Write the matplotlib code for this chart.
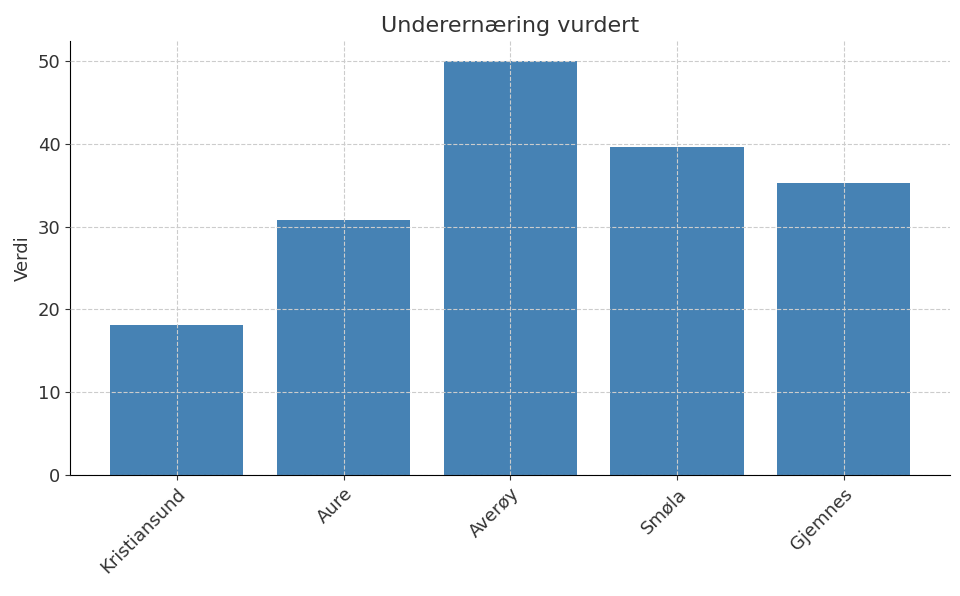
import matplotlib
matplotlib.use("Agg")
import matplotlib.pyplot as plt

# Data
kommuner = ["Kristiansund", "Aure", "Averøy", "Smøla", "Gjemnes"]
verdier = [18.1, 30.8, 50.0, 39.6, 35.3]

plt.rcParams['font.family'] = ['DejaVu Sans']
fig, ax = plt.subplots(figsize=(9.6, 5.96), dpi=100)
fig.subplots_adjust(left=0.073, right=0.99, top=0.932, bottom=0.203)

ax.bar(kommuner, verdier, color="steelblue", width=0.8, zorder=2)
ax.set_title("Underernæring vurdert", fontsize=16, color="#333333")
ax.set_ylabel("Verdi", fontsize=13, color="#333333")
ax.set_ylim(0, 52.5)
ax.set_yticks(range(0, 51, 10))
ax.tick_params(axis='both', labelsize=13, colors="#333333")
plt.setp(ax.get_xticklabels(), rotation=45, ha="right", rotation_mode="anchor")
ax.grid(True, linestyle="--", color="#cccccc", linewidth=0.8, zorder=0)
ax.set_axisbelow(False)
for s in ["top", "right"]:
    ax.spines[s].set_visible(False)

fig.savefig("out.png", dpi=100)
